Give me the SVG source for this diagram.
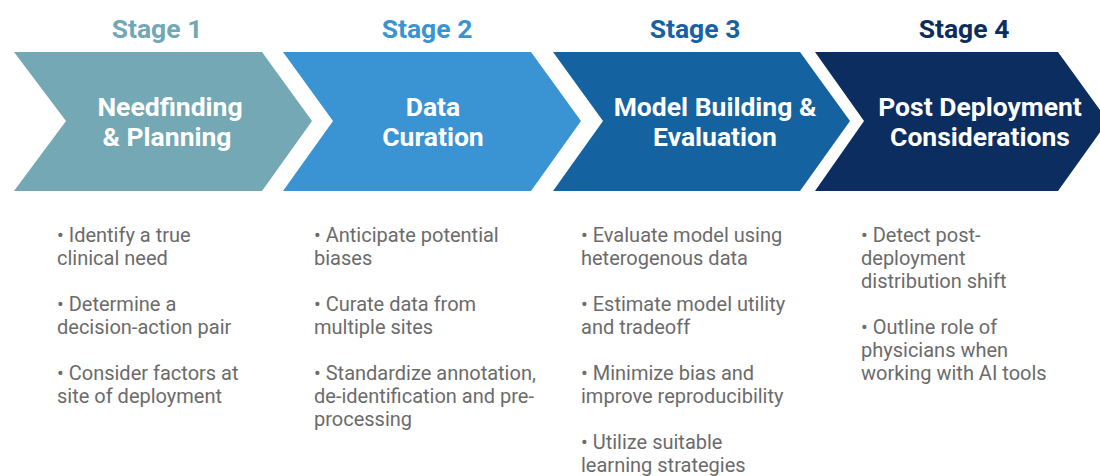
<svg xmlns="http://www.w3.org/2000/svg" width="1100" height="476" viewBox="0 0 1100 476">
  <style>
    .stage { font-family: Roboto, "Liberation Sans", sans-serif; font-weight: 700; font-size: 26.5px; text-anchor: middle; }
    .title { font-family: Roboto, "Liberation Sans", sans-serif; font-weight: 700; font-size: 26.5px; fill: #ffffff; text-anchor: middle; }
    .item { font-family: Roboto, "Liberation Sans", sans-serif; font-size: 20px; fill: #6b6b6b; }
  </style>
  <rect width="1100" height="476" fill="#ffffff"/>

  <!-- Stage 1 -->
  <g id="stage1">
    <text class="stage" x="157" y="38" fill="#72a8b5">Stage 1</text>
    <polygon points="14,52 262,52 312,121 262,191 14,191 66,121" fill="#73a8b4"/>
    <text class="title" x="170" y="116">Needfinding</text>
    <text class="title" x="167" y="146">&amp; Planning</text>
    <text class="item">
      <tspan x="57" y="242">• Identify a true</tspan>
      <tspan x="57" y="265">clinical need</tspan>
      <tspan x="57" y="311">• Determine a</tspan>
      <tspan x="57" y="334">decision-action pair</tspan>
      <tspan x="57" y="380">• Consider factors at</tspan>
      <tspan x="57" y="403">site of deployment</tspan>
    </text>
  </g>

  <!-- Stage 2 -->
  <g id="stage2">
    <text class="stage" x="427" y="38" fill="#3a94d4">Stage 2</text>
    <polygon points="283,52 531,52 581,121 531,191 283,191 333,121" fill="#3a94d4"/>
    <text class="title" x="433" y="116">Data</text>
    <text class="title" x="433" y="146">Curation</text>
    <text class="item">
      <tspan x="314" y="242">• Anticipate potential</tspan>
      <tspan x="314" y="265">biases</tspan>
      <tspan x="314" y="311">• Curate data from</tspan>
      <tspan x="314" y="334">multiple sites</tspan>
      <tspan x="314" y="380">• Standardize annotation,</tspan>
      <tspan x="314" y="403">de-identification and pre-</tspan>
      <tspan x="314" y="426">processing</tspan>
    </text>
  </g>

  <!-- Stage 3 -->
  <g id="stage3">
    <text class="stage" x="695" y="38" fill="#1762a2">Stage 3</text>
    <polygon points="553,52 800,52 850,121 800,191 553,191 603,121" fill="#1562a1"/>
    <text class="title" x="715" y="116">Model Building &amp;</text>
    <text class="title" x="715" y="146">Evaluation</text>
    <text class="item">
      <tspan x="581" y="242">• Evaluate model using</tspan>
      <tspan x="581" y="265">heterogenous data</tspan>
      <tspan x="581" y="311">• Estimate model utility</tspan>
      <tspan x="581" y="334">and tradeoff</tspan>
      <tspan x="581" y="380">• Minimize bias and</tspan>
      <tspan x="581" y="403">improve reproducibility</tspan>
      <tspan x="581" y="449">• Utilize suitable</tspan>
      <tspan x="581" y="472">learning strategies</tspan>
    </text>
  </g>

  <!-- Stage 4 -->
  <g id="stage4">
    <text class="stage" x="964" y="38" fill="#0c2d5e">Stage 4</text>
    <polygon points="815,52 1058,52 1108,121 1058,191 815,191 864,121" fill="#0b2d5f"/>
    <text class="title" x="980" y="116">Post Deployment</text>
    <text class="title" x="980" y="146">Considerations</text>
    <text class="item">
      <tspan x="861" y="242">• Detect post-</tspan>
      <tspan x="861" y="265">deployment</tspan>
      <tspan x="861" y="288">distribution shift</tspan>
      <tspan x="861" y="334">• Outline role of</tspan>
      <tspan x="861" y="357">physicians when</tspan>
      <tspan x="861" y="380">working with AI tools</tspan>
    </text>
  </g>

  <!-- no connectors: the stages are joined by the chevron shapes themselves -->
  <g id="connectors"/>
</svg>
